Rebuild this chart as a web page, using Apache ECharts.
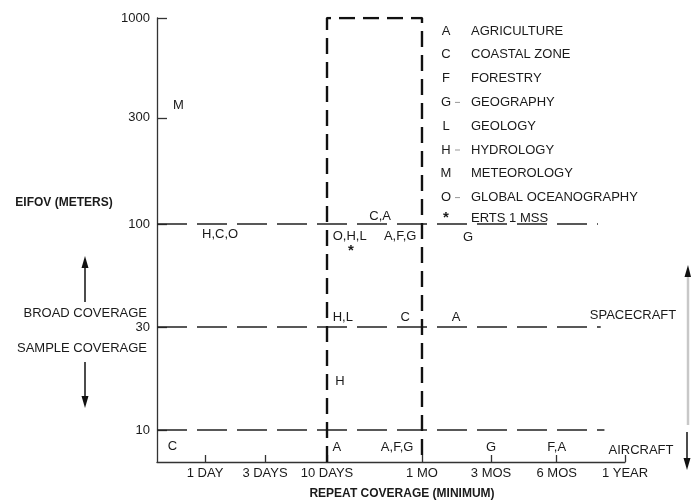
<!DOCTYPE html>
<html><head><meta charset="utf-8">
<script src="https://cdn.jsdelivr.net/npm/echarts@6/dist/echarts.min.js"></script>
<style>html,body{margin:0;padding:0;background:#fff}#c{width:691px;height:501px}</style>
</head><body><div id="c"></div>
<script>
// ---- data ----
const xTickLabels = ['1 DAY','3 DAYS','10 DAYS','1 MO','3 MOS','6 MOS','1 YEAR'];
const xTickDays   = [1, 3, 10, 30, 91, 182, 365];
const yTickLabels = ['10','30','100','300','1000'];
const yTickMeters = [10, 30, 100, 300, 1000];

// requirement annotations: repeat coverage (days), EIFOV (meters), discipline letters
const labelDays   = [0.615, 1.32, 13.0, 13.2, 18.5, 23.3, 62.9, 12.0, 24.7, 51.8, 11.6, 0.552, 11.2, 22.5, 91, 182];
const labelMeters = [349,   88,   86,   73,   108.5, 86,  85,   33.7, 33.7, 33.7, 16.7, 8.4,   8.3,  8.3,  8.3, 8.3];
const labelTexts  = ['M', 'H,C,O', 'O,H,L', '*', 'C,A', 'A,F,G', 'G', 'H,L', 'C', 'A', 'H', 'C', 'A', 'A,F,G', 'G', 'F,A'];

// reference levels (dashed lines)
const levelMeters  = [100, 30, 10];
const levelEndDays = [277, 285, 296];

// ERTS-1 MSS box
const boxDays   = [10, 30];
const boxTopMeters = 1000;

const legendLetters = ['A','C','F','G','L','H','M','O','*'];
const legendDash    = [false,false,false,true,false,true,false,true,false];
const legendNames   = ['AGRICULTURE','COASTAL ZONE','FORESTRY','GEOGRAPHY','GEOLOGY','HYDROLOGY','METEOROLOGY','GLOBAL OCEANOGRAPHY','ERTS 1 MSS'];

// ---- scale (hand-drawn axis tick placement) ----
const xTickPos = [1, 1.984, 3, 4.557, 5.689, 6.766, 7.885];
const yTickPos = [0, 1, 2, 3.03, 4];
const X_MIN = 0.213, X_MAX = 7.885, Y_MIN = -0.311, Y_MAX = 4;

function interp(v, ticks, pos) {
  const lv = Math.log(v);
  let i = 0;
  while (i < ticks.length - 2 && v > ticks[i + 1]) i++;
  const a = Math.log(ticks[i]), b = Math.log(ticks[i + 1]);
  return pos[i] + (lv - a) / (b - a) * (pos[i + 1] - pos[i]);
}
const xPos = d => interp(d, xTickDays, xTickPos);
const yPos = m => interp(m, yTickMeters, yTickPos);

function nearestLabel(v, pos, labels) {
  let best = 0;
  for (let i = 1; i < pos.length; i++) if (Math.abs(pos[i] - v) < Math.abs(pos[best] - v)) best = i;
  return labels[best];
}

const FONT = 'Liberation Sans';
const TXT = '#1a1a1a';
const chart = echarts.init(document.getElementById('c'), null, {renderer: 'canvas'});

const series = [];
levelMeters.forEach((m, i) => {
  series.push({
    type: 'line', symbol: 'none', silent: true, animation: false,
    data: [[X_MIN, yPos(m)], [xPos(levelEndDays[i]), yPos(m)]],
    lineStyle: {color: '#222', width: 1.4, type: [30, 10]}
  });
});
series.push({
  type: 'line', symbol: 'none', silent: true, animation: false,
  data: [[xPos(boxDays[0]), Y_MIN], [xPos(boxDays[0]), yPos(boxTopMeters)],
         [xPos(boxDays[1]), yPos(boxTopMeters)], [xPos(boxDays[1]), Y_MIN]],
  lineStyle: {color: '#111', width: 2.4, type: [16, 8]}
});
series.push({
  type: 'scatter', silent: true, animation: false, symbolSize: 1,
  itemStyle: {color: 'rgba(0,0,0,0)', opacity: 1},
  data: labelTexts.map((t, i) => [xPos(labelDays[i]), yPos(labelMeters[i]), t]),
  label: {show: true, position: 'inside', opacity: 1,
          formatter: p => p.data[2] === '*' ? '{s|*}' : p.data[2],
          color: TXT, fontSize: 13, fontFamily: FONT, textBorderWidth: 0,
          rich: {s: {fontSize: 15, fontWeight: 'bold', color: TXT, fontFamily: FONT}}}
});

const graphic = [];
legendLetters.forEach((l, i) => {
  const y = i < 8 ? 31 + i * 23.8 : 218;
  graphic.push({type: 'text', x: 446, y: y,
    style: {text: l, fill: TXT, font: (l === '*' ? 'bold 15px ' : '13px ') + FONT, align: 'center', verticalAlign: 'middle'}});
  if (legendDash[i]) graphic.push({type: 'line', shape: {x1: 455, y1: y, x2: 460, y2: y}, style: {stroke: '#999', lineWidth: 1}});
  graphic.push({type: 'text', x: 471, y: y,
    style: {text: legendNames[i], fill: TXT, font: '13px ' + FONT, align: 'left', verticalAlign: 'middle'}});
});
graphic.push(
  {type: 'text', x: 64, y: 203, style: {text: 'EIFOV (METERS)', fill: TXT, font: 'bold 12px ' + FONT, align: 'center', verticalAlign: 'middle'}},
  {type: 'text', x: 147, y: 313, style: {text: 'BROAD COVERAGE', fill: TXT, font: '13px ' + FONT, align: 'right', verticalAlign: 'middle'}},
  {type: 'text', x: 147, y: 348, style: {text: 'SAMPLE COVERAGE', fill: TXT, font: '13px ' + FONT, align: 'right', verticalAlign: 'middle'}},
  {type: 'text', x: 402, y: 494, style: {text: 'REPEAT COVERAGE (MINIMUM)', fill: TXT, font: 'bold 12px ' + FONT, align: 'center', verticalAlign: 'middle'}},
  {type: 'text', x: 633, y: 315, style: {text: 'SPACECRAFT', fill: TXT, font: '13px ' + FONT, align: 'center', verticalAlign: 'middle'}},
  {type: 'text', x: 641, y: 450, style: {text: 'AIRCRAFT', fill: TXT, font: '13px ' + FONT, align: 'center', verticalAlign: 'middle'}},
  {type: 'line', shape: {x1: 85, y1: 302, x2: 85, y2: 264}, style: {stroke: '#111', lineWidth: 1.5}},
  {type: 'polygon', shape: {points: [[85, 256], [81.5, 268], [88.5, 268]]}, style: {fill: '#111'}},
  {type: 'line', shape: {x1: 85, y1: 362, x2: 85, y2: 400}, style: {stroke: '#111', lineWidth: 1.5}},
  {type: 'polygon', shape: {points: [[85, 408], [81.5, 396], [88.5, 396]]}, style: {fill: '#111'}},
  {type: 'line', shape: {x1: 688, y1: 276, x2: 688, y2: 425}, style: {stroke: '#c8c8c8', lineWidth: 2.5}},
  {type: 'polygon', shape: {points: [[688, 265], [684.5, 277], [691, 277]]}, style: {fill: '#111'}},
  {type: 'line', shape: {x1: 687, y1: 432, x2: 687, y2: 462}, style: {stroke: '#111', lineWidth: 1.5}},
  {type: 'polygon', shape: {points: [[687, 470], [683.5, 458], [690.5, 458]]}, style: {fill: '#111'}}
);

chart.setOption({
  animation: false,
  backgroundColor: '#fff',
  grid: {left: 157, right: 66, top: 18, bottom: 39, containLabel: false},
  xAxis: {
    type: 'value', min: X_MIN, max: X_MAX,
    splitLine: {show: false},
    axisLine: {show: true, onZero: false, lineStyle: {color: '#333', width: 1.3}},
    axisTick: {show: true, inside: true, length: 7, customValues: xTickPos, lineStyle: {color: '#333', width: 1.3}},
    axisLabel: {show: true, customValues: xTickPos, margin: 5, color: TXT, fontSize: 13, fontFamily: FONT,
      formatter: v => nearestLabel(v, xTickPos, xTickLabels)}
  },
  yAxis: {
    type: 'value', min: Y_MIN, max: Y_MAX,
    splitLine: {show: false},
    axisLine: {show: true, onZero: false, lineStyle: {color: '#333', width: 1.3}},
    axisTick: {show: true, inside: true, length: 10, customValues: yTickPos, lineStyle: {color: '#333', width: 1.3}},
    axisLabel: {show: true, customValues: yTickPos, margin: 7, color: TXT, fontSize: 13, fontFamily: FONT,
      formatter: v => nearestLabel(v, yTickPos, yTickLabels)}
  },
  series: series,
  graphic: graphic
});
</script>
</body></html>
